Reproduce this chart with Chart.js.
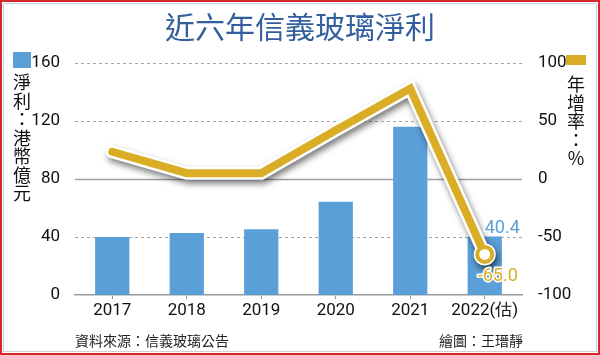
<!DOCTYPE html>
<html lang="zh-Hant">
<head>
<meta charset="utf-8">
<script src="https://cdn.jsdelivr.net/npm/chart.js@4.4.1/dist/chart.umd.min.js"></script>
<style>
html,body{margin:0;padding:0;background:#fff;}
#wrap{position:relative;width:600px;height:355px;box-sizing:border-box;border:2px solid #d8262c;background:#fff;overflow:hidden;}
#inner{position:absolute;left:1px;top:1px;right:1px;bottom:1px;border:1px solid #c9d3dc;}
#c{position:absolute;left:-2px;top:-2px;}
.t{position:absolute;font-family:"Noto Sans CJK TC","Noto Sans CJK SC",sans-serif;white-space:nowrap;}
#title{left:0;width:596px;top:3px;text-align:center;font-size:30px;color:#335f9f;line-height:40px;}
.vt{width:20px;font-size:18px;line-height:18.5px;color:#111;text-align:center;}
.vt span{display:block;}
#foot1{left:73px;top:328px;font-size:14px;color:#222;}
#foot2{left:437px;top:328px;font-size:14px;color:#222;}
</style>
</head>
<body>
<div id="wrap">
<div id="inner"></div>
<canvas id="c" width="600" height="355"></canvas>
<div class="t" id="title">近六年信義玻璃淨利</div>
<div style="position:absolute;left:11px;top:50px;width:18px;height:16px;background:#5b9fd8;"></div>
<div class="t vt" lang="zh-Hant" style="left:10px;top:70px;"><span>淨</span><span>利</span><span>：</span><span>港</span><span>幣</span><span>億</span><span>元</span></div>
<div style="position:absolute;left:564px;top:53px;width:20px;height:10px;background:#d9ae26;"></div>
<div class="t vt" lang="zh-Hant" style="left:564px;top:72px;"><span>年</span><span>增</span><span>率</span><span>：</span><span>%</span></div>
<div class="t" id="foot1">資料來源：信義玻璃公告</div>
<div class="t" id="foot2">繪圖：王瑨靜</div>
</div>
<script>
const categories = ["2017","2018","2019","2020","2021","2022(估)"];
const netProfit = [40.0, 42.7, 45.3, 64.3, 116.0, 40.4];
const growthRate = [23.5, 5.0, 5.0, 42.0, 78.0, -65.0];
const leftTicks = [0, 40, 80, 120, 160];
const rightTicks = [-100, -50, 0, 50, 100];

const BLUE = "#5b9fd8";
const GOLD = "#d9ae26";
const tickFont = {family: "Roboto, 'Liberation Sans', sans-serif", size: 17};
const lastIdx = categories.length - 1;

const gridPlugin = {
  id: "gridPlugin",
  beforeDatasetsDraw(chart) {
    const ctx = chart.ctx, a = chart.chartArea;
    const y = chart.scales.y, y1 = chart.scales.y1;
    ctx.save();
    ctx.lineWidth = 1;
    ctx.strokeStyle = "#a5a5a5";
    ctx.setLineDash([3, 3]);
    leftTicks.forEach(v => {
      if (v === 0) return;
      const p = Math.round(y.getPixelForValue(v)) + 0.5;
      ctx.beginPath(); ctx.moveTo(a.left, p); ctx.lineTo(a.right, p); ctx.stroke();
    });
    ctx.setLineDash([]);
    ctx.lineWidth = 1.3;
    ctx.strokeStyle = "#a0a0a0";
    const z = Math.round(y1.getPixelForValue(0)) + 0.5;
    ctx.beginPath(); ctx.moveTo(a.left, z); ctx.lineTo(a.right, z); ctx.stroke();
    ctx.restore();
  }
};

const shadowPlugin = {
  id: "shadowPlugin",
  beforeDatasetDraw(chart, args) {
    const ds = chart.data.datasets[args.index];
    if (ds._shadow) {
      const ctx = chart.ctx;
      ctx.save();
      ctx.shadowColor = "rgba(0,0,0,0.5)";
      ctx.shadowBlur = 6;
      ctx.shadowOffsetX = 2;
      ctx.shadowOffsetY = 4;
    }
  },
  afterDatasetDraw(chart, args) {
    const ds = chart.data.datasets[args.index];
    if (ds._shadow) chart.ctx.restore();
  }
};

const labelPlugin = {
  id: "labelPlugin",
  afterDatasetsDraw(chart) {
    const ctx = chart.ctx;
    const x = chart.scales.x.getPixelForValue(lastIdx);
    const yb = chart.scales.y.getPixelForValue(netProfit[lastIdx]);
    const yl = chart.scales.y1.getPixelForValue(growthRate[lastIdx]);
    ctx.save();
    ctx.font = "18px Roboto, 'Liberation Sans', sans-serif";
    ctx.textAlign = "left";
    ctx.textBaseline = "alphabetic";
    ctx.lineWidth = 3;
    ctx.lineJoin = "round";
    ctx.strokeStyle = "#fff";
    const t1 = netProfit[lastIdx].toFixed(1);
    ctx.strokeText(t1, x + 0, yb - 3);
    ctx.fillStyle = BLUE;
    ctx.fillText(t1, x + 0, yb - 3);
    const t2 = growthRate[lastIdx].toFixed(1);
    ctx.strokeText(t2, x - 7, yl + 27);
    ctx.fillStyle = GOLD;
    ctx.fillText(t2, x - 7, yl + 27);
    ctx.restore();
  }
};

new Chart(document.getElementById("c"), {
  data: {
    labels: categories,
    datasets: [
      {
        type: "line", data: growthRate, yAxisID: "y1", order: 1, _shadow: true,
        borderColor: "#ffffff", borderWidth: 13, borderJoinStyle: "miter", borderCapStyle: "round",
        pointRadius: categories.map((c, i) => i === lastIdx ? 11 : 0),
        pointBackgroundColor: "#ffffff", pointBorderWidth: 0, tension: 0
      },
      {
        type: "line", data: growthRate, yAxisID: "y1", order: 0,
        borderColor: GOLD, borderWidth: 8, borderJoinStyle: "miter", borderCapStyle: "round",
        pointRadius: categories.map((c, i) => i === lastIdx ? 7.5 : 0),
        pointBackgroundColor: "#ffffff", pointBorderColor: GOLD, pointBorderWidth: 4, tension: 0
      },
      {
        type: "bar", data: netProfit, yAxisID: "y", order: 2,
        backgroundColor: BLUE, barPercentage: 0.46, categoryPercentage: 1
      }
    ]
  },
  options: {
    responsive: false, animation: false, events: [],
    layout: {padding: {top: 63, left: 2, right: 0, bottom: 0}},
    plugins: {legend: {display: false}, tooltip: {enabled: false}},
    scales: {
      x: {
        offset: true,
        grid: {display: true, drawOnChartArea: false, drawTicks: true, tickLength: 4, offset: false, tickColor: "#999"},
        border: {display: true, color: "#9a9a9a", width: 1.5},
        ticks: {color: "#111", font: tickFont, padding: 2, maxRotation: 0, autoSkip: false},
        afterFit(s) { s.height = 60; }
      },
      y: {
        position: "left", min: 0, max: 160,
        afterBuildTicks(s) { s.ticks = leftTicks.map(v => ({value: v})); },
        grid: {display: false},
        border: {display: false},
        ticks: {color: "#111", font: tickFont, padding: 7},
        afterFit(s) { s.width = 73; }
      },
      y1: {
        position: "right", min: -100, max: 100,
        afterBuildTicks(s) { s.ticks = rightTicks.map(v => ({value: v})); },
        grid: {display: false},
        border: {display: false},
        ticks: {color: "#111", font: tickFont, padding: 8},
        afterFit(s) { s.width = 78; }
      }
    }
  },
  plugins: [gridPlugin, shadowPlugin, labelPlugin]
});
</script>
</body>
</html>
